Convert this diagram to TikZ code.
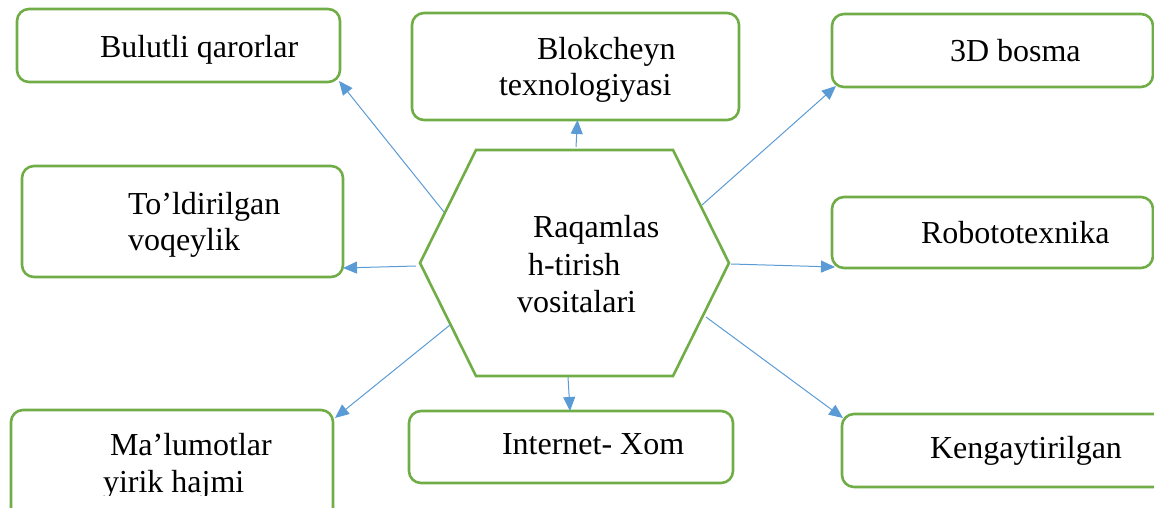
\documentclass[tikz,border=0pt]{standalone}
\usepackage{fontspec}
\setmainfont{Liberation Serif}
\usetikzlibrary{arrows.meta}
\definecolor{boxgreen}{HTML}{70AD47}
\definecolor{arrblue}{HTML}{5B9BD5}
\tikzset{
  box/.style={draw=boxgreen, line width=2.6pt, rounded corners=12pt, inner sep=0pt, outer sep=0pt, rectangle},
  lbl/.style={anchor=base west, inner sep=0pt, outer sep=0pt, font=\fontsize{32}{36}\selectfont},
  arr/.style={draw=arrblue, line width=1pt, -{Triangle[length=14pt,width=12pt]}},
  hexline/.style={draw=boxgreen, line width=2.6pt, line join=miter}
}
\begin{document}
\begin{tikzpicture}[x=1pt,y=-1pt]
\useasboundingbox (0,0) rectangle (1154,508);
\clip (0,0) rectangle (1154,508);
% boxes
\node[box, minimum width=323pt, minimum height=73pt] (bul) at (178.5,45.5) {};
\node[box, minimum width=327pt, minimum height=107pt] (blk) at (575.5,66.5) {};
\node[box, minimum width=321pt, minimum height=73pt] (td) at (992.5,50.5) {};
\node[box, minimum width=321pt, minimum height=71pt] (rob) at (992.5,232.5) {};
\node[box, minimum width=321pt, minimum height=111pt] (tol) at (182.5,221.5) {};
\node[box, minimum width=322pt, minimum height=124pt] (mal) at (172,472) {};
\node[box, minimum width=324pt, minimum height=72pt] (int) at (571,447) {};
\node[box, minimum width=324pt, minimum height=73pt] (ken) at (1004,450.5) {};
% hexagon
\coordinate (hA) at (476,150);
\coordinate (hB) at (673,150);
\coordinate (hC) at (729,263);
\coordinate (hD) at (673,376);
\coordinate (hE) at (476,376);
\coordinate (hF) at (420,263);
\draw[hexline] (hA) -- (hB) -- (hC) -- (hD) -- (hE) -- (hF) -- cycle;
% labels
\node[lbl] (tbul) at (100,58) {Bulutli qarorlar};
\node[lbl] (tblk1) at (537,60) {Blokcheyn};
\node[lbl] (tblk2) at (499,96) {texnologiyasi};
\node[lbl] (ttd) at (950,62) {3D bosma};
\node[lbl] (trob) at (921,243) {Robototexnika};
\node[lbl] (ttol1) at (128,214) {To’ldirilgan};
\node[lbl] (ttol2) at (128,250) {voqeylik};
\node[lbl] (th1) at (533,237) {Raqamlas};
\node[lbl] (th2) at (528,275) {h-tirish};
\node[lbl] (th3) at (517,312) {vositalari};
\node[lbl] (tmal1) at (110,455) {Ma’lumotlar};
\begin{scope}
\clip (0,0) rectangle (1154,495);
\node[lbl] (tmal2) at (103,492) {yirik hajmi};
\end{scope}
\node[lbl] (tint) at (502,454) {Internet- Xom};
\node[lbl] (tken) at (930,458) {Kengaytirilgan};
% connector start points on the hexagon
\coordinate (s1) at (444,212);
\coordinate (s2) at (576,147);
\coordinate (s3) at (702,205);
\coordinate (s4) at (416,266);
\coordinate (s5) at (731,264);
\coordinate (s6) at (450,325);
\coordinate (s7) at (568,377);
\coordinate (s8) at (706,317);
% connectors
\draw[arr] (s1) -- ([xshift=-1pt,yshift=1pt]bul.south east);
\draw[arr] (s2) -- ([xshift=2pt]blk.south);
\draw[arr] (s3) -- ([xshift=4pt,yshift=1pt]td.south west);
\draw[arr] (s4) -- ([yshift=9pt]tol.south east);
\draw[arr] (s5) -- ([xshift=3pt,yshift=1pt]rob.south west);
\draw[arr] (s6) -- ([xshift=2pt,yshift=-8pt]mal.north east);
\draw[arr] (s7) -- ([xshift=-1pt]int.north);
\draw[arr] (s8) -- ([xshift=1pt,yshift=-4pt]ken.north west);
\end{tikzpicture}
\end{document}
